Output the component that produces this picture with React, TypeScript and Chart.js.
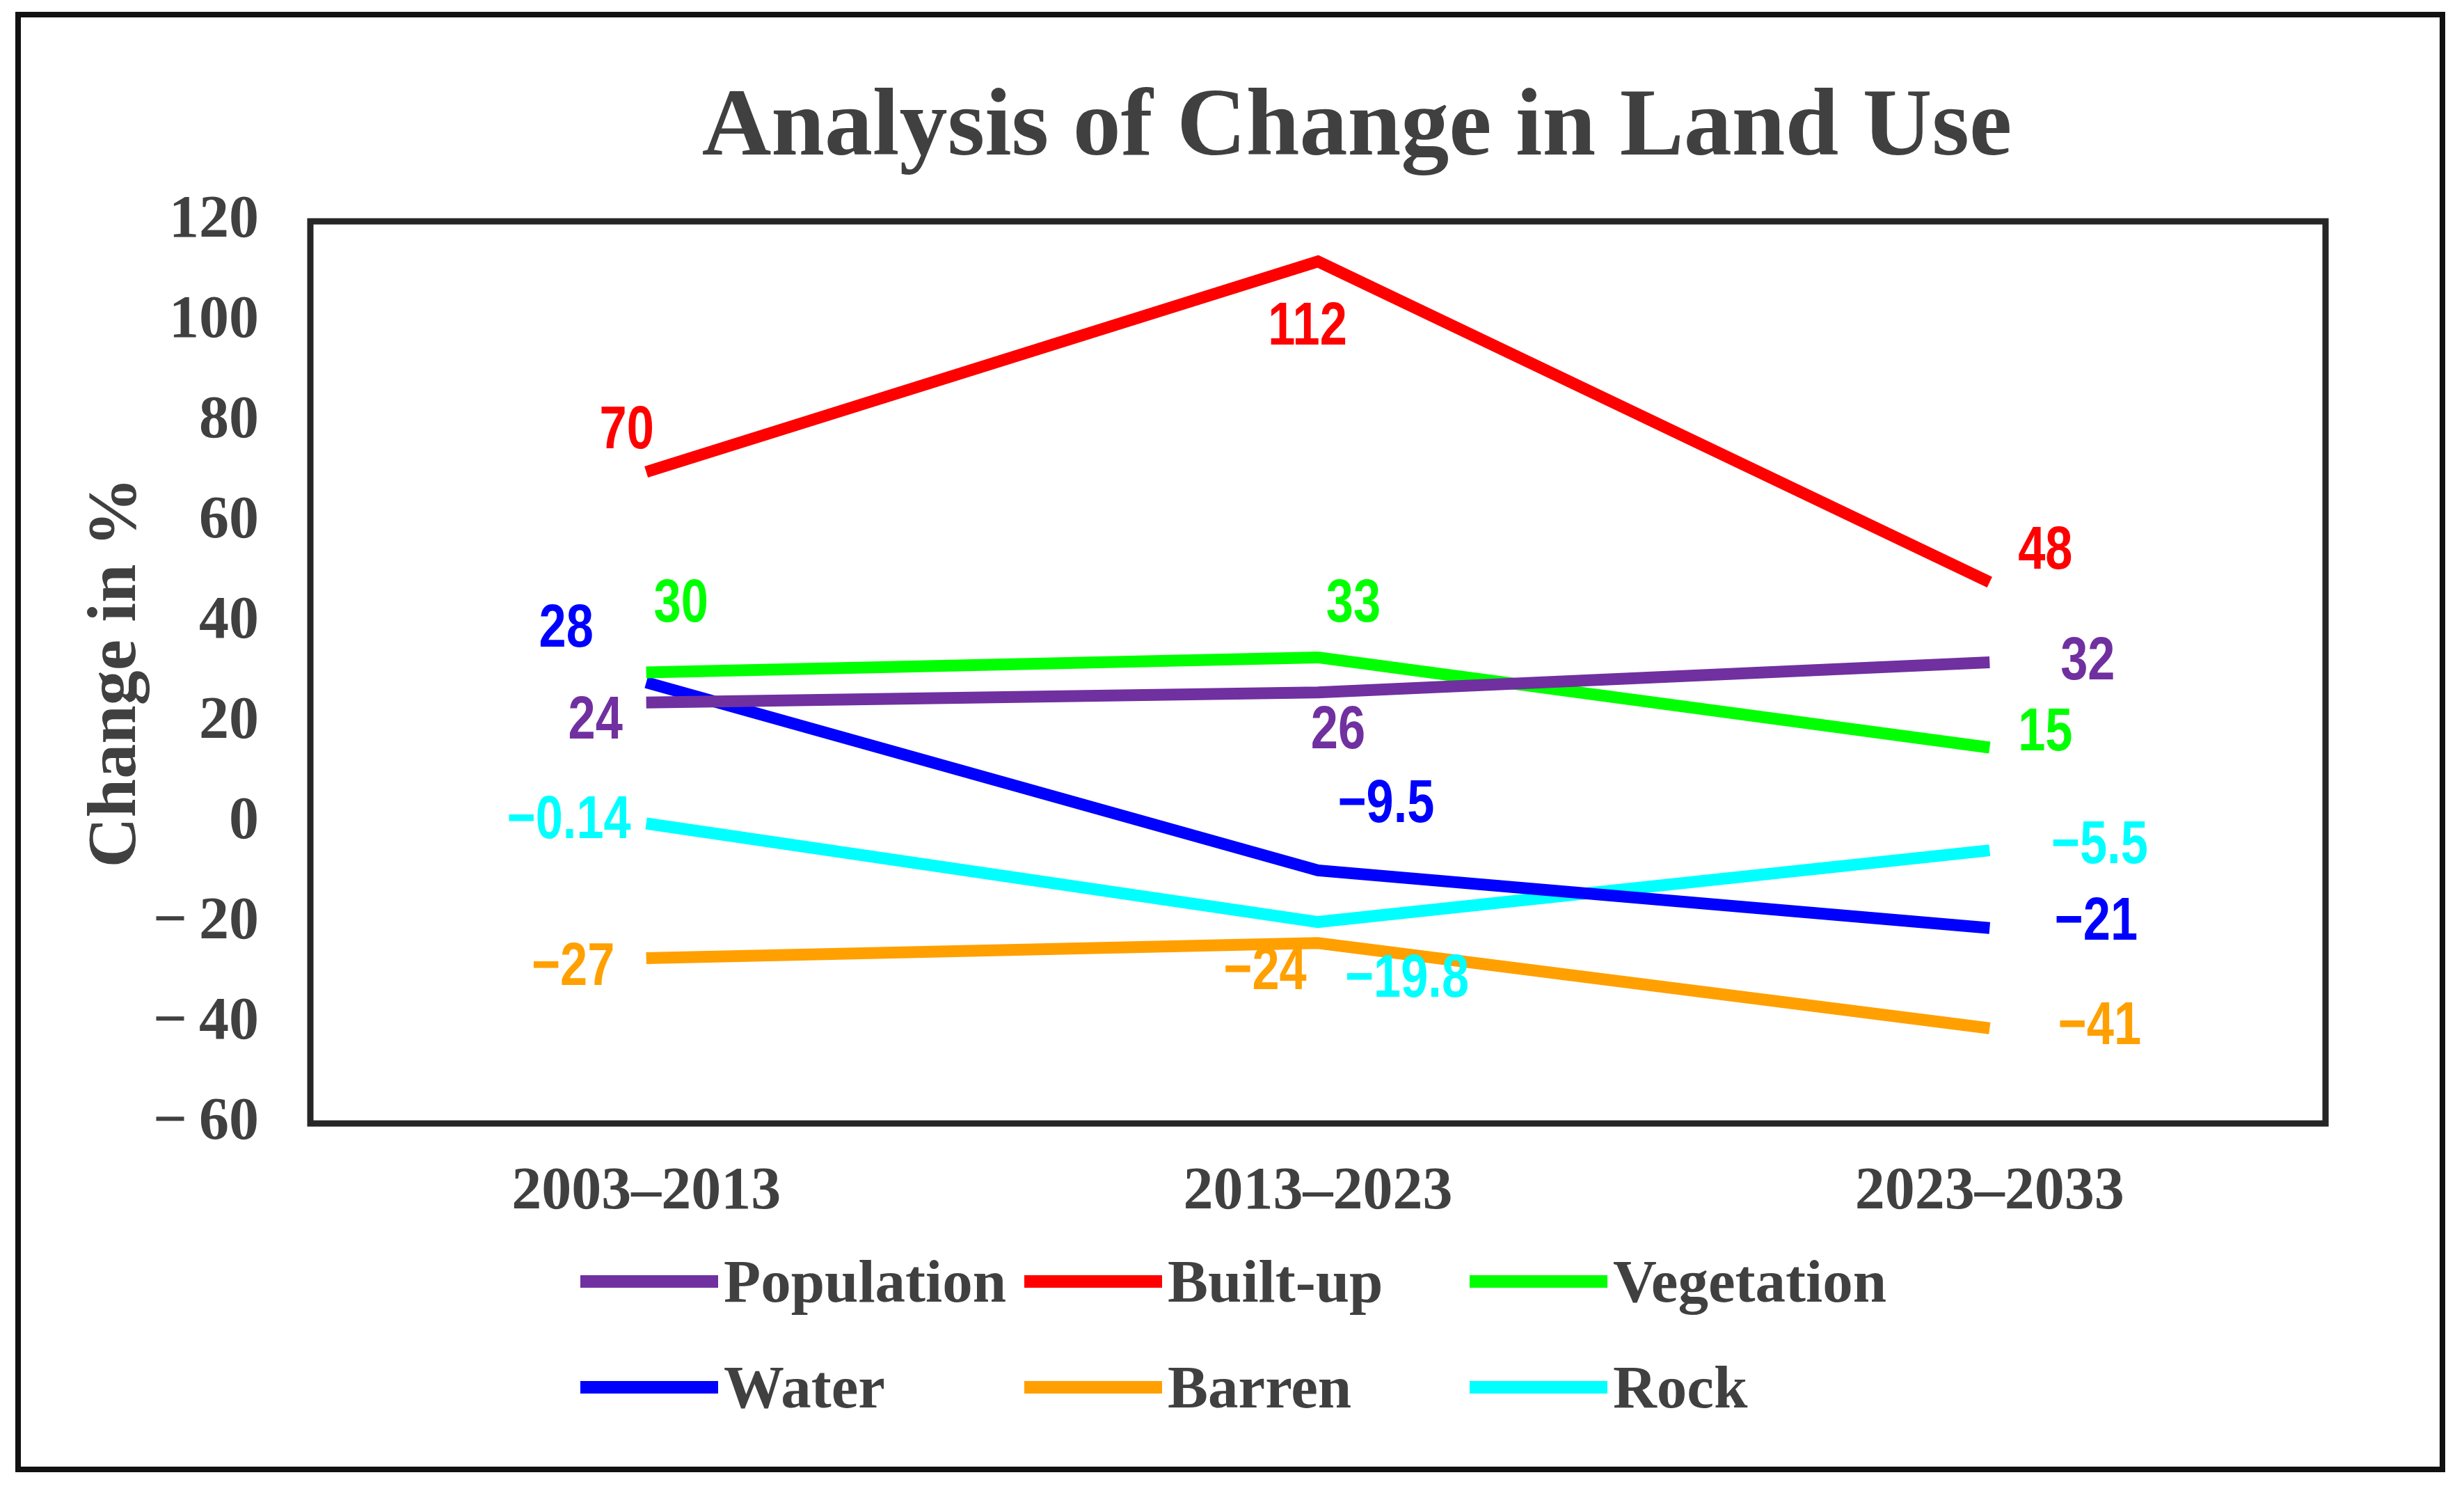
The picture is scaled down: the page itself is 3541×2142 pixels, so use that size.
import React, { useEffect, useRef } from 'react';
import { Chart, registerables } from 'chart.js';

Chart.register(...registerables);

// ---------- data ----------
const categories = ['2003–2013', '2013–2023', '2023–2033'];
const seriesNames = ['Population', 'Built-up', 'Vegetation', 'Water', 'Barren', 'Rock'];
const population = [24, 26, 32];
const builtUp = [70, 112, 48];
const vegetation = [30, 33, 15];
const water = [28, -9.5, -21];
const barren = [-27, -24, -41];
const rock = [-0.14, -19.8, -5.5];
const Y_MIN = -60;
const Y_MAX = 120;
const Y_STEP = 20;

// ---------- styles ----------
const seriesColors = ['#7030A0', '#FF0000', '#00FF00', '#0000FF', '#FFA000', '#00FFFF'];
// label offsets (px) from each point, per series, per category
const labelOffsets: number[][][] = [
  [[-73, 28], [29, 56], [141, 0]],
  [[-28, -58], [-15, 95], [80, -44]],
  [[50, -97], [51, -76], [80, -20]],
  [[-115, -76], [98, -94], [153, -7]],
  [[-105, 14], [-76, 42], [158, -1]],
  [[-111, -3], [128, 83], [158, -6]],
];
const SERIF = "'Liberation Serif', 'Times New Roman', serif";
const SANS = "'Liberation Sans', Arial, sans-serif";
const TEXT_DARK = '#404040';

const fmt = (v: number) => (v < 0 ? '−' + String(Math.abs(v)) : String(v));

const framePlugin = {
  id: 'frame',
  beforeDraw(chart: any) {
    const ctx = chart.ctx;
    ctx.save();
    ctx.fillStyle = '#ffffff';
    ctx.fillRect(0, 0, chart.width, chart.height);
    ctx.strokeStyle = '#111111';
    ctx.lineWidth = 8;
    ctx.strokeRect(26, 21, 3484, 2090);
    ctx.restore();
  },
  afterDraw(chart: any) {
    const ctx = chart.ctx;
    const a = chart.chartArea;
    ctx.save();
    // plot border
    ctx.strokeStyle = '#262626';
    ctx.lineWidth = 9;
    ctx.strokeRect(a.left, a.top, a.right - a.left, a.bottom - a.top);
    // title
    ctx.fillStyle = TEXT_DARK;
    ctx.font = `bold 138px ${SERIF}`;
    ctx.textAlign = 'center';
    ctx.textBaseline = 'alphabetic';
    ctx.fillText('Analysis of Change in Land Use', 1950, 222);
    // legend (3 columns x 2 rows)
    const colX = [834, 1472, 2112];
    const rowY = [1841, 1993];
    chart.data.datasets.forEach((ds: any, i: number) => {
      const x = colX[i % 3];
      const y = rowY[Math.floor(i / 3)];
      ctx.strokeStyle = ds.borderColor;
      ctx.lineWidth = 18;
      ctx.lineCap = 'butt';
      ctx.beginPath();
      ctx.moveTo(x, y);
      ctx.lineTo(x + 198, y);
      ctx.stroke();
      ctx.fillStyle = TEXT_DARK;
      ctx.font = `bold 87px ${SERIF}`;
      ctx.textAlign = 'left';
      ctx.textBaseline = 'alphabetic';
      ctx.fillText(ds.label, x + 206, y + 29);
    });
    ctx.restore();
  },
  afterDatasetsDraw(chart: any) {
    const ctx = chart.ctx;
    ctx.save();
    chart.data.datasets.forEach((ds: any, i: number) => {
      const meta = chart.getDatasetMeta(i);
      meta.data.forEach((el: any, j: number) => {
        const off = labelOffsets[i][j];
        ctx.save();
        ctx.translate(el.x + off[0], el.y + off[1]);
        ctx.scale(0.8, 1);
        ctx.fillStyle = ds.borderColor;
        ctx.font = `bold 88px ${SANS}`;
        ctx.textAlign = 'center';
        ctx.textBaseline = 'middle';
        ctx.fillText(fmt(ds.data[j]), 0, 0);
        ctx.restore();
      });
    });
    ctx.restore();
  },
};

export default function App() {
  const ref = useRef<HTMLCanvasElement | null>(null);

  useEffect(() => {
    document.body.style.margin = '0';
    document.body.style.overflow = 'hidden';
    const values = [population, builtUp, vegetation, water, barren, rock];
    const chart = new Chart(ref.current as HTMLCanvasElement, {
      type: 'line',
      data: {
        labels: categories,
        datasets: values.map((d, i) => ({
          label: seriesNames[i],
          data: d,
          borderColor: seriesColors[i],
          backgroundColor: seriesColors[i],
          borderWidth: 17,
          pointRadius: 0,
          pointHoverRadius: 0,
          tension: 0,
          borderJoinStyle: 'miter' as const,
          borderCapStyle: 'butt' as const,
          fill: false,
        })),
      },
      options: {
        animation: false,
        responsive: true,
        maintainAspectRatio: false,
        devicePixelRatio: 1,
        layout: { padding: { left: 60, right: 199, top: 318, bottom: 328 } },
        plugins: {
          legend: { display: false },
          title: { display: false },
          tooltip: { enabled: false },
        },
        scales: {
          x: {
            offset: true,
            grid: { display: false },
            border: { display: false },
            ticks: {
              color: TEXT_DARK,
              font: { family: SERIF, size: 86, weight: 'bold' },
              padding: 40,
              maxRotation: 0,
            },
            afterFit: (s: any) => {
              s.height = 200;
            },
          },
          y: {
            min: Y_MIN,
            max: Y_MAX,
            grid: { display: false },
            border: { display: false },
            ticks: {
              stepSize: Y_STEP,
              color: TEXT_DARK,
              font: { family: SERIF, size: 86, weight: 'bold' },
              padding: 66,
              callback: (v: any) => (Number(v) < 0 ? '−\u2009' + Math.abs(Number(v)) : String(v)),
            },
            title: {
              display: true,
              text: 'Change in %',
              color: TEXT_DARK,
              font: { family: SERIF, size: 100, weight: 'bold' },
              padding: { top: 48, bottom: 0 },
            },
            afterFit: (s: any) => {
              s.width = 386;
            },
          },
        },
      },
      plugins: [framePlugin],
    });
    return () => chart.destroy();
  }, []);

  return (
    <div style={{ position: 'relative', width: '3541px', height: '2142px', background: '#fff' }}>
      <canvas ref={ref} />
    </div>
  );
}
